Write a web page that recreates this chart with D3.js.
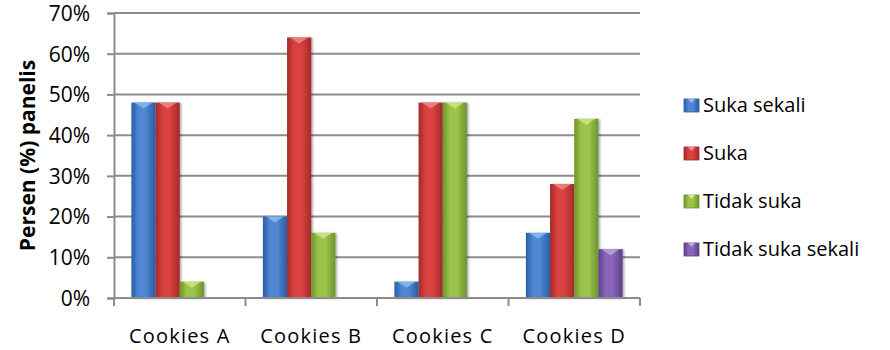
<!DOCTYPE html>
<html><head><meta charset="utf-8">
<script src="https://cdn.jsdelivr.net/npm/d3@7"></script>
<style>body{margin:0;background:#fff}svg{display:block}</style>
</head><body>
<svg id="c" width="890" height="350"></svg>
<script>
const categories = ["Cookies A","Cookies B","Cookies C","Cookies D"];
const seriesNames = ["Suka sekali","Suka","Tidak suka","Tidak suka sekali"];
const sukaSekali = [48, 20, 4, 16];
const suka = [48, 64, 48, 28];
const tidakSuka = [4, 16, 48, 44];
const tidakSukaSekali = [0, 0, 0, 12];
const yTicks = [0, 10, 20, 30, 40, 50, 60, 70];
const colors = [
  {mid:"#4f87d2", edge:"#2a5ca5", tip:"#8fc0f0"},
  {mid:"#d9423f", edge:"#a3292a", tip:"#f09090"},
  {mid:"#9cc44b", edge:"#6c952b", tip:"#d3ea8c"},
  {mid:"#8a66b8", edge:"#5b4087", tip:"#c3a8e6"}
];
const series = [sukaSekali, suka, tidakSuka, tidakSukaSekali];
const FONT = "'Open Sans','Noto Sans',sans-serif";

const svg = d3.select("#c");
const m = {l:114, r:640, t:13, b:298};
const x = d3.scaleBand().domain(categories).range([m.l, m.r]).paddingInner(0).paddingOuter(0);
const xs = d3.scaleBand().domain(d3.range(series.length)).range([0, x.bandwidth()]).paddingInner(0).paddingOuter(0.72);
const y = d3.scaleLinear().domain([0, 70]).range([m.b, m.t]);

const defs = svg.append("defs");
colors.forEach((c,i)=>{
  const g = defs.append("linearGradient").attr("id","g"+i).attr("x1","0").attr("x2","1").attr("y1","0").attr("y2","0");
  g.append("stop").attr("offset","0%").attr("stop-color",c.edge);
  g.append("stop").attr("offset","30%").attr("stop-color",c.mid);
  g.append("stop").attr("offset","60%").attr("stop-color",c.mid);
  g.append("stop").attr("offset","100%").attr("stop-color",c.edge);
});
const f = defs.append("filter").attr("id","sh").attr("x","-20%").attr("y","-10%").attr("width","150%").attr("height","130%");
f.append("feDropShadow").attr("dx",1.5).attr("dy",0.5).attr("stdDeviation",1.2).attr("flood-color","#000").attr("flood-opacity",0.35);

// gridlines
const yAxis = d3.axisLeft(y).tickValues(yTicks).tickSize(7).tickFormat(d=>d+"%");
svg.append("g").attr("class","grid").selectAll("line").data(yTicks.filter(d=>d>0)).join("line")
  .attr("x1",m.l).attr("x2",m.r).attr("y1",d=>y(d)).attr("y2",d=>y(d))
  .attr("stroke","#8c8c8c").attr("stroke-width",2);

const ga = svg.append("g").attr("transform",`translate(${m.l},0)`).call(yAxis);
ga.select(".domain").attr("stroke","#8c8c8c").attr("stroke-width",2);
ga.selectAll(".tick line").attr("stroke","#8c8c8c").attr("stroke-width",2);
ga.selectAll("text").attr("font-family",FONT).attr("font-size",21).attr("fill","#000").attr("x",-24).attr("dy","0.35em");

// bars
series.forEach((vals,si)=>{
  const gs = svg.append("g");
  vals.forEach((v,ci)=>{
    if (v<=0) return;
    const bx = x(categories[ci]) + xs(si), bw = xs.bandwidth();
    const by = y(v), bh = y(0)-y(v);
    gs.append("rect").attr("x",bx).attr("y",by).attr("width",bw).attr("height",bh)
      .attr("fill",`url(#g${si})`).attr("filter","url(#sh)");
    const th = Math.min(6, bh);
    gs.append("path").attr("d",`M${bx+3},${by} L${bx+bw-3},${by} L${bx+bw/2},${by+th} Z`)
      .attr("fill",colors[si].tip).attr("opacity",0.75);
  });
});

// x axis
const xa = svg.append("g").attr("transform",`translate(0,${m.b})`);
xa.append("line").attr("x1",m.l).attr("x2",m.r).attr("stroke","#8c8c8c").attr("stroke-width",2);
const bounds = categories.map(c=>x(c)).concat([m.r]);
xa.selectAll(".tk").data(bounds).join("line").attr("class","tk")
  .attr("x1",d=>d).attr("x2",d=>d).attr("y1",0).attr("y2",8).attr("stroke","#8c8c8c").attr("stroke-width",2);
xa.selectAll("text").data(categories).join("text")
  .attr("x",d=>x(d)+x.bandwidth()/2).attr("y",45).attr("text-anchor","middle")
  .attr("font-family",FONT).attr("font-size",20).attr("letter-spacing",1.2).attr("fill","#000").text(d=>d);

// y title
svg.append("text").attr("transform",`translate(35,${(m.t+m.b)/2}) rotate(-90)`)
  .attr("text-anchor","middle").attr("font-family",FONT).attr("font-weight","bold")
  .attr("font-size",21).attr("fill","#000").text("Persen (%) panelis");

// legend
const lg = svg.append("g").attr("transform","translate(684,105)");
seriesNames.forEach((n,i)=>{
  const r = lg.append("g").attr("transform",`translate(0,${i*48})`);
  r.append("rect").attr("x",0).attr("y",-6).attr("width",15).attr("height",13).attr("fill",`url(#g${i})`)
    .attr("stroke",colors[i].edge).attr("stroke-width",0.8);
  r.append("path").attr("d","M4,-6 L11,-6 L7.5,-2 Z").attr("fill",colors[i].tip);
  r.append("text").attr("x",19).attr("y",0).attr("dy","0.35em").attr("font-family",FONT)
    .attr("font-size",20).attr("fill","#000").text(n);
});
</script>
</body></html>
